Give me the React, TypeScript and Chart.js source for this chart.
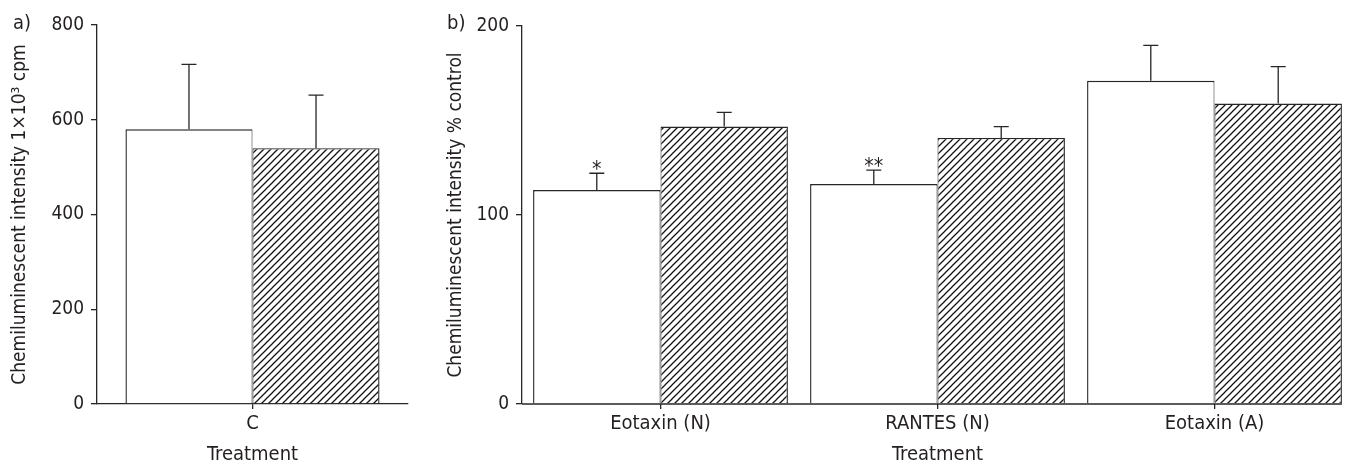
import React, { useEffect, useRef } from "react";
import { Chart, registerables } from "chart.js";

Chart.register(...registerables);

// Panel a: untreated control
const categoriesA = ["C"];
const openA = [580];
const openSemA = [137];
const hatchedA = [540];
const hatchedSemA = [112];
const yTicksA = [0, 200, 400, 600, 800];

// Panel b: chemokine-stimulated, % of control
const categoriesB = ["Eotaxin (N)", "RANTES (N)", "Eotaxin (A)"];
const openB = [113.2, 116.4, 171.0];
const openSemB = [8.9, 7.3, 18.7];
const hatchedB = [146.8, 140.8, 159.0];
const hatchedSemB = [7.5, 6.0, 19.5];
const significanceB = ["*", "**", ""];
const yTicksB = [0, 100, 200];

const INK = "#262626";
const TEXT = "#231f20";
const FONT = '"DejaVu Sans Condensed", "Liberation Sans Narrow", "Liberation Sans", Arial, sans-serif';

function makeHatch(): CanvasPattern | string {
  const s = 7;
  const c = document.createElement("canvas");
  c.width = s;
  c.height = s;
  const g = c.getContext("2d");
  if (!g) return "#888";
  g.fillStyle = "#ffffff";
  g.fillRect(0, 0, s, s);
  g.strokeStyle = "#111111";
  g.lineWidth = 1.25;
  g.beginPath();
  g.moveTo(-1, s + 1);
  g.lineTo(s + 1, -1);
  g.moveTo(-1, 1);
  g.lineTo(1, -1);
  g.moveTo(s - 1, s + 1);
  g.lineTo(s + 1, s - 1);
  g.stroke();
  return g.createPattern(c, "repeat") || "#888";
}

type PanelSpec = {
  tag: string;
  tagX: number;
  categories: string[];
  open: number[];
  openSem: number[];
  hatched: number[];
  hatchedSem: number[];
  marks: string[];
  ticks: number[];
  yTitle: string;
  yTitlePad: number;
  yWidth: number;
  padTop: number;
  padRight: number;
  catPct: number;
  drawOwnBaseline: boolean;
};

function annotationPlugin(spec: PanelSpec) {
  return {
    id: "annot_" + spec.tag,
    afterDatasetsDraw(chart: any) {
      const ctx: CanvasRenderingContext2D = chart.ctx;
      const y = chart.scales.y;
      const area = chart.chartArea;
      const sems = [spec.openSem, spec.hatchedSem];
      ctx.save();
      ctx.strokeStyle = INK;
      ctx.lineWidth = 1.3;
      let rightEdge = area.left;
      chart.data.datasets.forEach((ds: any, di: number) => {
        const meta = chart.getDatasetMeta(di);
        meta.data.forEach((bar: any, i: number) => {
          const v = ds.data[i] as number;
          const base = y.getPixelForValue(v);
          const top = y.getPixelForValue(v + sems[di][i]);
          rightEdge = Math.max(rightEdge, bar.x + bar.width / 2);
          ctx.beginPath();
          ctx.moveTo(bar.x, base);
          ctx.lineTo(bar.x, top);
          ctx.moveTo(bar.x - 7.5, top);
          ctx.lineTo(bar.x + 7.5, top);
          ctx.stroke();
          if (di === 0 && spec.marks[i]) {
            ctx.fillStyle = TEXT;
            ctx.font = `21px ${FONT}`;
            ctx.textAlign = "center";
            ctx.textBaseline = "alphabetic";
            ctx.fillText(spec.marks[i], bar.x, top + 3);
          }
        });
      });
      if (spec.drawOwnBaseline) {
        ctx.beginPath();
        ctx.moveTo(area.left, area.bottom);
        ctx.lineTo(rightEdge, area.bottom);
        ctx.stroke();
      }
      ctx.fillStyle = TEXT;
      ctx.font = `20px ${FONT}`;
      ctx.textAlign = "left";
      ctx.textBaseline = "middle";
      ctx.fillText(spec.tag, spec.tagX, 24);
      ctx.restore();
    },
  };
}

function Panel({ spec, left, width }: { spec: PanelSpec; left: number; width: number }) {
  const ref = useRef<HTMLCanvasElement | null>(null);
  useEffect(() => {
    if (!ref.current) return;
    const hatch = makeHatch();
    const chart = new Chart(ref.current, {
      type: "bar",
      data: {
        labels: spec.categories,
        datasets: [
          {
            data: spec.open,
            backgroundColor: "#ffffff",
            borderColor: INK,
            borderWidth: { top: 1.4, left: 1.4, right: 1, bottom: 0 },
            borderSkipped: false,
            categoryPercentage: spec.catPct,
            barPercentage: 1,
          },
          {
            data: spec.hatched,
            backgroundColor: hatch as any,
            borderColor: INK,
            borderWidth: { top: 1.4, left: 1, right: 1.4, bottom: 0 },
            borderSkipped: false,
            categoryPercentage: spec.catPct,
            barPercentage: 1,
          },
        ],
      },
      options: {
        responsive: false,
        animation: false,
        devicePixelRatio: 1,
        layout: {
          autoPadding: false,
          padding: { top: spec.padTop, right: spec.padRight, left: 0, bottom: 0 },
        },
        plugins: {
          legend: { display: false },
          tooltip: { enabled: false },
        },
        scales: {
          x: {
            grid: {
              display: true,
              drawOnChartArea: false,
              drawTicks: true,
              tickLength: 5,
              offset: false,
              color: INK,
              lineWidth: 1.3,
            },
            border: { display: !spec.drawOwnBaseline, color: INK, width: 1.3 },
            ticks: {
              color: TEXT,
              font: { family: FONT, size: 20 },
              padding: 3,
              maxRotation: 0,
              autoSkip: false,
            },
            title: {
              display: true,
              text: "Treatment",
              color: TEXT,
              font: { family: FONT, size: 20 },
              padding: { top: 0, bottom: 1 },
            },
            afterFit: (s: any) => {
              s.height = 64;
            },
          },
          y: {
            min: spec.ticks[0],
            max: spec.ticks[spec.ticks.length - 1],
            afterBuildTicks: (s: any) => {
              s.ticks = spec.ticks.map((v) => ({ value: v }));
            },
            grid: {
              display: true,
              drawOnChartArea: false,
              drawTicks: true,
              tickLength: 6,
              color: INK,
              lineWidth: 1.3,
            },
            border: { display: true, color: INK, width: 1.3 },
            ticks: {
              color: TEXT,
              font: { family: FONT, size: 19 },
              padding: 7,
              autoSkip: false,
            },
            title: {
              display: true,
              text: spec.yTitle,
              color: TEXT,
              font: { family: FONT, size: 19 },
              padding: { top: spec.yTitlePad, bottom: 0 },
            },
            afterFit: (s: any) => {
              s.width = spec.yWidth;
            },
          },
        },
      } as any,
      plugins: [annotationPlugin(spec)],
    });
    return () => chart.destroy();
  }, [spec]);
  return (
    <canvas
      ref={ref}
      width={width}
      height={468}
      style={{ position: "absolute", left, top: 0, width, height: 468 }}
    />
  );
}

const panelA: PanelSpec = {
  tag: "a)",
  tagX: 13,
  categories: categoriesA,
  open: openA,
  openSem: openSemA,
  hatched: hatchedA,
  hatchedSem: hatchedSemA,
  marks: [""],
  ticks: yTicksA,
  yTitle: "Chemiluminescent intensity 1×10³ cpm",
  yTitlePad: 9,
  yWidth: 97,
  padTop: 25,
  padRight: 12,
  catPct: 0.817,
  drawOwnBaseline: false,
};

const panelB: PanelSpec = {
  tag: "b)",
  tagX: 27,
  categories: categoriesB,
  open: openB,
  openSem: openSemB,
  hatched: hatchedB,
  hatchedSem: hatchedSemB,
  marks: significanceB,
  ticks: yTicksB,
  yTitle: "Chemiluminescent intensity % control",
  yTitlePad: 25,
  yWidth: 102,
  padTop: 26,
  padRight: 0,
  catPct: 0.92,
  drawOwnBaseline: true,
};

export default function App() {
  return (
    <div
      style={{
        position: "fixed",
        left: 0,
        top: 0,
        width: 1353,
        height: 468,
        background: "#ffffff",
        overflow: "hidden",
      }}
    >
      <Panel spec={panelA} left={0} width={420} />
      <Panel spec={panelB} left={420} width={933} />
    </div>
  );
}
